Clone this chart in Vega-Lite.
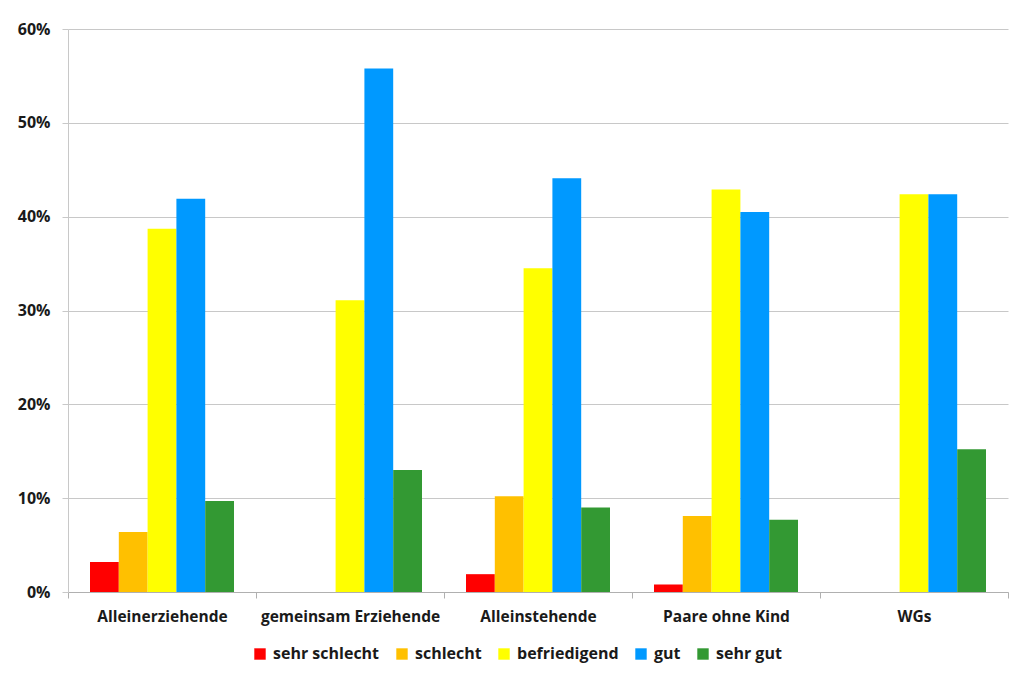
{
  "$schema": "https://vega.github.io/schema/vega-lite/v6.json",
  "autosize": {"type": "none"},
  "width": 940,
  "height": 563,
  "padding": {"left": 68, "top": 29, "right": 2, "bottom": 81},
  "background": "white",
  "data": {
    "values": [
      {"gruppe": "Alleinerziehende", "bewertung": "sehr schlecht", "anteil": 0.032},
      {"gruppe": "Alleinerziehende", "bewertung": "schlecht", "anteil": 0.064},
      {"gruppe": "Alleinerziehende", "bewertung": "befriedigend", "anteil": 0.387},
      {"gruppe": "Alleinerziehende", "bewertung": "gut", "anteil": 0.419},
      {"gruppe": "Alleinerziehende", "bewertung": "sehr gut", "anteil": 0.097},
      {"gruppe": "gemeinsam Erziehende", "bewertung": "befriedigend", "anteil": 0.311},
      {"gruppe": "gemeinsam Erziehende", "bewertung": "gut", "anteil": 0.558},
      {"gruppe": "gemeinsam Erziehende", "bewertung": "sehr gut", "anteil": 0.130},
      {"gruppe": "Alleinstehende", "bewertung": "sehr schlecht", "anteil": 0.019},
      {"gruppe": "Alleinstehende", "bewertung": "schlecht", "anteil": 0.102},
      {"gruppe": "Alleinstehende", "bewertung": "befriedigend", "anteil": 0.345},
      {"gruppe": "Alleinstehende", "bewertung": "gut", "anteil": 0.441},
      {"gruppe": "Alleinstehende", "bewertung": "sehr gut", "anteil": 0.090},
      {"gruppe": "Paare ohne Kind", "bewertung": "sehr schlecht", "anteil": 0.008},
      {"gruppe": "Paare ohne Kind", "bewertung": "schlecht", "anteil": 0.081},
      {"gruppe": "Paare ohne Kind", "bewertung": "befriedigend", "anteil": 0.429},
      {"gruppe": "Paare ohne Kind", "bewertung": "gut", "anteil": 0.405},
      {"gruppe": "Paare ohne Kind", "bewertung": "sehr gut", "anteil": 0.077},
      {"gruppe": "WGs", "bewertung": "befriedigend", "anteil": 0.424},
      {"gruppe": "WGs", "bewertung": "gut", "anteil": 0.424},
      {"gruppe": "WGs", "bewertung": "sehr gut", "anteil": 0.152}
    ]
  },
  "mark": {"type": "bar"},
  "encoding": {
    "x": {
      "field": "gruppe",
      "type": "nominal",
      "sort": ["Alleinerziehende", "gemeinsam Erziehende", "Alleinstehende", "Paare ohne Kind", "WGs"],
      "scale": {"paddingInner": 0, "paddingOuter": 0},
      "axis": {
        "title": null,
        "labelAngle": 0,
        "labelFont": "Open Sans",
        "labelFontSize": 15.5,
        "labelFontWeight": "bold",
        "labelColor": "#1a1a1a",
        "labelPadding": 11,
        "labelLimit": 400,
        "labelOverlap": false,
        "tickBand": "extent",
        "tickSize": 6,
        "tickColor": "#b0b0b0",
        "domainColor": "#b0b0b0",
        "grid": false
      }
    },
    "xOffset": {
      "field": "bewertung",
      "type": "nominal",
      "scale": {
        "domain": ["sehr schlecht", "schlecht", "befriedigend", "gut", "sehr gut"],
        "paddingInner": 0,
        "paddingOuter": 0.764
      }
    },
    "y": {
      "field": "anteil",
      "type": "quantitative",
      "scale": {"domain": [0, 0.6], "nice": false},
      "axis": {
        "title": null,
        "format": ".0%",
        "values": [0, 0.1, 0.2, 0.3, 0.4, 0.5, 0.6],
        "labelFont": "Open Sans",
        "labelFontSize": 16,
        "labelFontWeight": "bold",
        "labelColor": "#1a1a1a",
        "labelPadding": 12,
        "tickSize": 6,
        "tickColor": "#c8c8c8",
        "domainColor": "#c8c8c8",
        "gridColor": "#c8c8c8",
        "grid": true
      }
    },
    "color": {
      "field": "bewertung",
      "type": "nominal",
      "scale": {
        "domain": ["sehr schlecht", "schlecht", "befriedigend", "gut", "sehr gut"],
        "range": ["#ff0000", "#ffc000", "#ffff00", "#0099ff", "#339933"]
      },
      "legend": {
        "title": null,
        "orient": "none",
        "direction": "horizontal",
        "legendX": 184,
        "legendY": 617,
        "symbolType": "square",
        "symbolSize": 130,
        "symbolStrokeWidth": 0,
        "labelFont": "Open Sans",
        "labelFontSize": 16,
        "labelFontWeight": "bold",
        "labelColor": "#1a1a1a",
        "columnPadding": 14,
        "labelOffset": 5
      }
    }
  },
  "config": {
    "view": {"stroke": null},
    "bar": {"opacity": 1}
  }
}
